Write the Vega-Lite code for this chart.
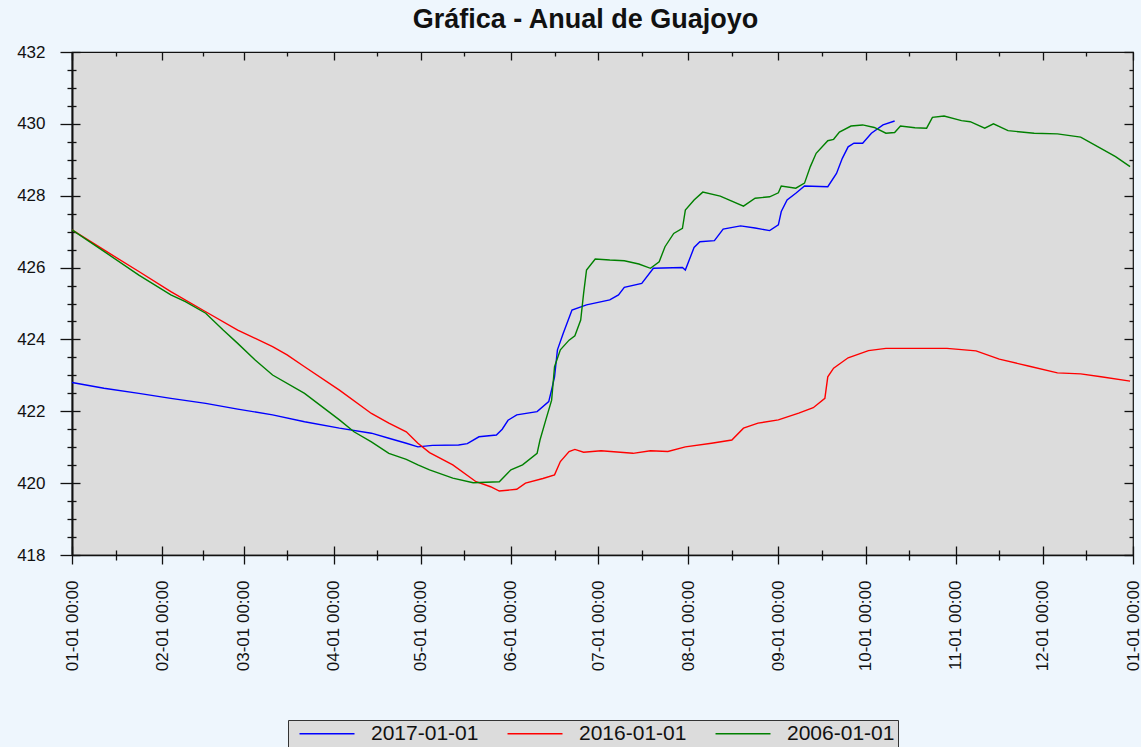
{
  "$schema": "https://vega.github.io/schema/vega-lite/v6.json",
  "width": 1061,
  "height": 503,
  "autosize": {"type": "none"},
  "padding": {"left": 72, "top": 52, "right": 8, "bottom": 192},
  "background": "#eef6fd",
  "title": {"text": "Gráfica - Anual de Guajoyo", "font": "Liberation Sans", "fontSize": 27, "fontWeight": "bold", "color": "#111", "anchor": "middle", "dx": -17, "offset": 9},
  "config": {
    "view": {"fill": "#dcdcdc", "stroke": "#111", "strokeWidth": 1.2},
    "axis": {"grid": false, "title": null, "tickColor": "#111", "domainColor": "#111", "tickWidth": 1.3, "labelFont": "Liberation Sans", "labelColor": "#111"}
  },
  "data": {
    "format": {"parse": {"d": "utc:'%Y-%m-%d'"}},
    "values": [
      {"s":"2017-01-01","d":"2017-01-01","v":422.80},
      {"s":"2017-01-01","d":"2017-01-12","v":422.64},
      {"s":"2017-01-01","d":"2017-01-24","v":422.50},
      {"s":"2017-01-01","d":"2017-02-04","v":422.36},
      {"s":"2017-01-01","d":"2017-02-16","v":422.22},
      {"s":"2017-01-01","d":"2017-02-27","v":422.06},
      {"s":"2017-01-01","d":"2017-03-11","v":421.90},
      {"s":"2017-01-01","d":"2017-03-22","v":421.71},
      {"s":"2017-01-01","d":"2017-04-03","v":421.53},
      {"s":"2017-01-01","d":"2017-04-14","v":421.39},
      {"s":"2017-01-01","d":"2017-04-20","v":421.25},
      {"s":"2017-01-01","d":"2017-04-26","v":421.11},
      {"s":"2017-01-01","d":"2017-04-30","v":421.01},
      {"s":"2017-01-01","d":"2017-05-05","v":421.05},
      {"s":"2017-01-01","d":"2017-05-14","v":421.06},
      {"s":"2017-01-01","d":"2017-05-17","v":421.10},
      {"s":"2017-01-01","d":"2017-05-21","v":421.29},
      {"s":"2017-01-01","d":"2017-05-27","v":421.34},
      {"s":"2017-01-01","d":"2017-05-29","v":421.50},
      {"s":"2017-01-01","d":"2017-05-31","v":421.75},
      {"s":"2017-01-01","d":"2017-06-03","v":421.90},
      {"s":"2017-01-01","d":"2017-06-10","v":421.99},
      {"s":"2017-01-01","d":"2017-06-14","v":422.27},
      {"s":"2017-01-01","d":"2017-06-15","v":422.60},
      {"s":"2017-01-01","d":"2017-06-16","v":422.96},
      {"s":"2017-01-01","d":"2017-06-17","v":423.71},
      {"s":"2017-01-01","d":"2017-06-19","v":424.17},
      {"s":"2017-01-01","d":"2017-06-22","v":424.82},
      {"s":"2017-01-01","d":"2017-06-27","v":424.96},
      {"s":"2017-01-01","d":"2017-07-05","v":425.10},
      {"s":"2017-01-01","d":"2017-07-08","v":425.24},
      {"s":"2017-01-01","d":"2017-07-10","v":425.45},
      {"s":"2017-01-01","d":"2017-07-16","v":425.56},
      {"s":"2017-01-01","d":"2017-07-20","v":425.98},
      {"s":"2017-01-01","d":"2017-07-30","v":426.00},
      {"s":"2017-01-01","d":"2017-07-31","v":425.93},
      {"s":"2017-01-01","d":"2017-08-03","v":426.56},
      {"s":"2017-01-01","d":"2017-08-05","v":426.72},
      {"s":"2017-01-01","d":"2017-08-10","v":426.75},
      {"s":"2017-01-01","d":"2017-08-13","v":427.07},
      {"s":"2017-01-01","d":"2017-08-19","v":427.16},
      {"s":"2017-01-01","d":"2017-08-24","v":427.10},
      {"s":"2017-01-01","d":"2017-08-29","v":427.03},
      {"s":"2017-01-01","d":"2017-09-01","v":427.19},
      {"s":"2017-01-01","d":"2017-09-02","v":427.56},
      {"s":"2017-01-01","d":"2017-09-04","v":427.88},
      {"s":"2017-01-01","d":"2017-09-07","v":428.07},
      {"s":"2017-01-01","d":"2017-09-10","v":428.27},
      {"s":"2017-01-01","d":"2017-09-18","v":428.25},
      {"s":"2017-01-01","d":"2017-09-21","v":428.62},
      {"s":"2017-01-01","d":"2017-09-23","v":429.04},
      {"s":"2017-01-01","d":"2017-09-25","v":429.36},
      {"s":"2017-01-01","d":"2017-09-27","v":429.46},
      {"s":"2017-01-01","d":"2017-09-30","v":429.46},
      {"s":"2017-01-01","d":"2017-10-03","v":429.74},
      {"s":"2017-01-01","d":"2017-10-07","v":429.97},
      {"s":"2017-01-01","d":"2017-10-11","v":430.08},

      {"s":"2016-01-01","d":"2017-01-01","v":427.05},
      {"s":"2016-01-01","d":"2017-01-12","v":426.49},
      {"s":"2016-01-01","d":"2017-01-24","v":425.89},
      {"s":"2016-01-01","d":"2017-02-04","v":425.33},
      {"s":"2016-01-01","d":"2017-02-16","v":424.77},
      {"s":"2016-01-01","d":"2017-02-27","v":424.26},
      {"s":"2016-01-01","d":"2017-03-11","v":423.80},
      {"s":"2016-01-01","d":"2017-03-16","v":423.57},
      {"s":"2016-01-01","d":"2017-03-22","v":423.24},
      {"s":"2016-01-01","d":"2017-04-03","v":422.59},
      {"s":"2016-01-01","d":"2017-04-14","v":421.94},
      {"s":"2016-01-01","d":"2017-04-20","v":421.67},
      {"s":"2016-01-01","d":"2017-04-26","v":421.43},
      {"s":"2016-01-01","d":"2017-04-30","v":421.11},
      {"s":"2016-01-01","d":"2017-05-04","v":420.85},
      {"s":"2016-01-01","d":"2017-05-12","v":420.51},
      {"s":"2016-01-01","d":"2017-05-20","v":420.04},
      {"s":"2016-01-01","d":"2017-05-25","v":419.90},
      {"s":"2016-01-01","d":"2017-05-28","v":419.78},
      {"s":"2016-01-01","d":"2017-06-03","v":419.83},
      {"s":"2016-01-01","d":"2017-06-06","v":420.00},
      {"s":"2016-01-01","d":"2017-06-12","v":420.13},
      {"s":"2016-01-01","d":"2017-06-16","v":420.23},
      {"s":"2016-01-01","d":"2017-06-18","v":420.60},
      {"s":"2016-01-01","d":"2017-06-21","v":420.88},
      {"s":"2016-01-01","d":"2017-06-23","v":420.94},
      {"s":"2016-01-01","d":"2017-06-26","v":420.86},
      {"s":"2016-01-01","d":"2017-07-02","v":420.90},
      {"s":"2016-01-01","d":"2017-07-13","v":420.83},
      {"s":"2016-01-01","d":"2017-07-19","v":420.90},
      {"s":"2016-01-01","d":"2017-07-25","v":420.88},
      {"s":"2016-01-01","d":"2017-07-31","v":421.01},
      {"s":"2016-01-01","d":"2017-08-09","v":421.11},
      {"s":"2016-01-01","d":"2017-08-16","v":421.20},
      {"s":"2016-01-01","d":"2017-08-20","v":421.53},
      {"s":"2016-01-01","d":"2017-08-25","v":421.67},
      {"s":"2016-01-01","d":"2017-09-01","v":421.76},
      {"s":"2016-01-01","d":"2017-09-08","v":421.95},
      {"s":"2016-01-01","d":"2017-09-13","v":422.10},
      {"s":"2016-01-01","d":"2017-09-17","v":422.36},
      {"s":"2016-01-01","d":"2017-09-18","v":422.96},
      {"s":"2016-01-01","d":"2017-09-20","v":423.20},
      {"s":"2016-01-01","d":"2017-09-25","v":423.49},
      {"s":"2016-01-01","d":"2017-10-02","v":423.69},
      {"s":"2016-01-01","d":"2017-10-08","v":423.75},
      {"s":"2016-01-01","d":"2017-10-29","v":423.75},
      {"s":"2016-01-01","d":"2017-11-08","v":423.68},
      {"s":"2016-01-01","d":"2017-11-16","v":423.45},
      {"s":"2016-01-01","d":"2017-11-26","v":423.26},
      {"s":"2016-01-01","d":"2017-12-06","v":423.07},
      {"s":"2016-01-01","d":"2017-12-14","v":423.04},
      {"s":"2016-01-01","d":"2017-12-21","v":422.96},
      {"s":"2016-01-01","d":"2017-12-31","v":422.84},

      {"s":"2006-01-01","d":"2017-01-01","v":427.05},
      {"s":"2006-01-01","d":"2017-01-12","v":426.45},
      {"s":"2006-01-01","d":"2017-01-24","v":425.79},
      {"s":"2006-01-01","d":"2017-02-04","v":425.24},
      {"s":"2006-01-01","d":"2017-02-09","v":425.05},
      {"s":"2006-01-01","d":"2017-02-16","v":424.73},
      {"s":"2006-01-01","d":"2017-02-22","v":424.26},
      {"s":"2006-01-01","d":"2017-02-27","v":423.89},
      {"s":"2006-01-01","d":"2017-03-05","v":423.43},
      {"s":"2006-01-01","d":"2017-03-11","v":423.01},
      {"s":"2006-01-01","d":"2017-03-22","v":422.50},
      {"s":"2006-01-01","d":"2017-03-28","v":422.13},
      {"s":"2006-01-01","d":"2017-04-03","v":421.76},
      {"s":"2006-01-01","d":"2017-04-08","v":421.43},
      {"s":"2006-01-01","d":"2017-04-14","v":421.15},
      {"s":"2006-01-01","d":"2017-04-20","v":420.83},
      {"s":"2006-01-01","d":"2017-04-26","v":420.66},
      {"s":"2006-01-01","d":"2017-04-30","v":420.51},
      {"s":"2006-01-01","d":"2017-05-04","v":420.37},
      {"s":"2006-01-01","d":"2017-05-12","v":420.14},
      {"s":"2006-01-01","d":"2017-05-19","v":420.01},
      {"s":"2006-01-01","d":"2017-05-28","v":420.04},
      {"s":"2006-01-01","d":"2017-06-01","v":420.37},
      {"s":"2006-01-01","d":"2017-06-05","v":420.51},
      {"s":"2006-01-01","d":"2017-06-10","v":420.83},
      {"s":"2006-01-01","d":"2017-06-11","v":421.20},
      {"s":"2006-01-01","d":"2017-06-13","v":421.76},
      {"s":"2006-01-01","d":"2017-06-15","v":422.31},
      {"s":"2006-01-01","d":"2017-06-16","v":423.24},
      {"s":"2006-01-01","d":"2017-06-18","v":423.71},
      {"s":"2006-01-01","d":"2017-06-21","v":423.98},
      {"s":"2006-01-01","d":"2017-06-23","v":424.10},
      {"s":"2006-01-01","d":"2017-06-25","v":424.54},
      {"s":"2006-01-01","d":"2017-06-26","v":425.28},
      {"s":"2006-01-01","d":"2017-06-27","v":425.93},
      {"s":"2006-01-01","d":"2017-06-30","v":426.24},
      {"s":"2006-01-01","d":"2017-07-05","v":426.21},
      {"s":"2006-01-01","d":"2017-07-10","v":426.19},
      {"s":"2006-01-01","d":"2017-07-15","v":426.10},
      {"s":"2006-01-01","d":"2017-07-19","v":425.98},
      {"s":"2006-01-01","d":"2017-07-22","v":426.16},
      {"s":"2006-01-01","d":"2017-07-24","v":426.58},
      {"s":"2006-01-01","d":"2017-07-27","v":426.95},
      {"s":"2006-01-01","d":"2017-07-30","v":427.09},
      {"s":"2006-01-01","d":"2017-07-31","v":427.60},
      {"s":"2006-01-01","d":"2017-08-03","v":427.88},
      {"s":"2006-01-01","d":"2017-08-06","v":428.10},
      {"s":"2006-01-01","d":"2017-08-12","v":427.99},
      {"s":"2006-01-01","d":"2017-08-20","v":427.71},
      {"s":"2006-01-01","d":"2017-08-24","v":427.93},
      {"s":"2006-01-01","d":"2017-08-29","v":427.97},
      {"s":"2006-01-01","d":"2017-09-01","v":428.08},
      {"s":"2006-01-01","d":"2017-09-02","v":428.27},
      {"s":"2006-01-01","d":"2017-09-07","v":428.21},
      {"s":"2006-01-01","d":"2017-09-10","v":428.35},
      {"s":"2006-01-01","d":"2017-09-12","v":428.81},
      {"s":"2006-01-01","d":"2017-09-14","v":429.18},
      {"s":"2006-01-01","d":"2017-09-18","v":429.53},
      {"s":"2006-01-01","d":"2017-09-20","v":429.57},
      {"s":"2006-01-01","d":"2017-09-22","v":429.77},
      {"s":"2006-01-01","d":"2017-09-26","v":429.94},
      {"s":"2006-01-01","d":"2017-09-30","v":429.97},
      {"s":"2006-01-01","d":"2017-10-04","v":429.90},
      {"s":"2006-01-01","d":"2017-10-08","v":429.74},
      {"s":"2006-01-01","d":"2017-10-11","v":429.76},
      {"s":"2006-01-01","d":"2017-10-13","v":429.94},
      {"s":"2006-01-01","d":"2017-10-18","v":429.89},
      {"s":"2006-01-01","d":"2017-10-22","v":429.88},
      {"s":"2006-01-01","d":"2017-10-24","v":430.18},
      {"s":"2006-01-01","d":"2017-10-28","v":430.22},
      {"s":"2006-01-01","d":"2017-11-03","v":430.09},
      {"s":"2006-01-01","d":"2017-11-06","v":430.06},
      {"s":"2006-01-01","d":"2017-11-11","v":429.88},
      {"s":"2006-01-01","d":"2017-11-14","v":430.00},
      {"s":"2006-01-01","d":"2017-11-19","v":429.81},
      {"s":"2006-01-01","d":"2017-11-28","v":429.74},
      {"s":"2006-01-01","d":"2017-12-06","v":429.72},
      {"s":"2006-01-01","d":"2017-12-14","v":429.63},
      {"s":"2006-01-01","d":"2017-12-20","v":429.36},
      {"s":"2006-01-01","d":"2017-12-26","v":429.09},
      {"s":"2006-01-01","d":"2017-12-31","v":428.81}
    ]
  },
  "resolve": {"axis": {"x": "independent", "y": "independent"}},
  "layer": [
    {
      "mark": {"type": "line", "strokeWidth": 1.4},
      "encoding": {
        "x": {"field": "d", "type": "temporal",
          "scale": {"type": "utc", "domain": [{"year":2017,"month":1,"date":1,"utc":true},{"year":2018,"month":1,"date":1,"utc":true}]},
          "axis": {"orient": "bottom", "values": [
            {"year":2017,"month":1,"date":1,"utc":true},{"year":2017,"month":2,"date":1,"utc":true},{"year":2017,"month":3,"date":1,"utc":true},
            {"year":2017,"month":4,"date":1,"utc":true},{"year":2017,"month":5,"date":1,"utc":true},{"year":2017,"month":6,"date":1,"utc":true},
            {"year":2017,"month":7,"date":1,"utc":true},{"year":2017,"month":8,"date":1,"utc":true},{"year":2017,"month":9,"date":1,"utc":true},
            {"year":2017,"month":10,"date":1,"utc":true},{"year":2017,"month":11,"date":1,"utc":true},{"year":2017,"month":12,"date":1,"utc":true},
            {"year":2018,"month":1,"date":1,"utc":true}],
            "labelExpr": "utcFormat(datum.value, '%m-%d %H:%M')", "labelAngle": -90, "labelFontSize": 17, "labelPadding": 16, "tickSize": 9,
            "labelFlush": false, "labelOverlap": false, "labelBound": false, "domainWidth": 1.5}},
        "y": {"field": "v", "type": "quantitative", "scale": {"domain": [418, 432], "nice": false, "zero": false},
          "axis": {"orient": "left", "values": [418,420,422,424,426,428,430,432], "tickSize": 12, "labelPadding": 15, "labelFontSize": 17, "labelOverlap": false, "domainWidth": 2}},
        "color": {"field": "s", "type": "nominal",
          "scale": {"domain": ["2017-01-01","2016-01-01","2006-01-01"], "range": ["#0000ff","#ff0000","#008000"]},
          "legend": {"orient": "none", "legendX": 216, "legendY": 668, "direction": "horizontal", "title": null,
            "fillColor": "#dcdcdc", "strokeColor": "#333", "padding": 3, "symbolType": "M-0.22,0H5.89", "symbolSize": 324,
            "symbolStrokeWidth": 1.5, "labelOffset": 59, "labelFontSize": 21, "labelFont": "Liberation Sans", "labelColor": "#111", "columnPadding": 20}}
      }
    },
    {
      "mark": {"type": "point", "opacity": 0},
      "encoding": {
        "x": {"field": "d", "type": "temporal",
          "scale": {"type": "utc", "domain": [{"year":2017,"month":1,"date":1,"utc":true},{"year":2018,"month":1,"date":1,"utc":true}]},
          "axis": {"orient": "bottom", "offset": -9, "tickSize": 9, "labels": false, "domain": false, "values": [
            {"year":2017,"month":1,"date":1,"utc":true},{"year":2017,"month":2,"date":1,"utc":true},{"year":2017,"month":3,"date":1,"utc":true},
            {"year":2017,"month":4,"date":1,"utc":true},{"year":2017,"month":5,"date":1,"utc":true},{"year":2017,"month":6,"date":1,"utc":true},
            {"year":2017,"month":7,"date":1,"utc":true},{"year":2017,"month":8,"date":1,"utc":true},{"year":2017,"month":9,"date":1,"utc":true},
            {"year":2017,"month":10,"date":1,"utc":true},{"year":2017,"month":11,"date":1,"utc":true},{"year":2017,"month":12,"date":1,"utc":true},
            {"year":2018,"month":1,"date":1,"utc":true}]}},
        "y": {"field": "v", "type": "quantitative", "scale": {"domain": [418, 432], "nice": false, "zero": false},
          "axis": {"orient": "left", "offset": -8, "tickSize": 8, "labels": false, "domain": false, "values": [418,420,422,424,426,428,430,432]}}
      }
    },
    {
      "mark": {"type": "point", "opacity": 0},
      "encoding": {
        "x": {"field": "d", "type": "temporal",
          "scale": {"type": "utc", "domain": [{"year":2017,"month":1,"date":1,"utc":true},{"year":2018,"month":1,"date":1,"utc":true}]},
          "axis": {"orient": "bottom", "offset": -5, "tickSize": 10, "labels": false, "domain": false, "values": [
            {"year":2017,"month":1,"date":16,"utc":true},{"year":2017,"month":2,"date":15,"utc":true},{"year":2017,"month":3,"date":16,"utc":true},
            {"year":2017,"month":4,"date":16,"utc":true},{"year":2017,"month":5,"date":16,"utc":true},{"year":2017,"month":6,"date":16,"utc":true},
            {"year":2017,"month":7,"date":16,"utc":true},{"year":2017,"month":8,"date":16,"utc":true},{"year":2017,"month":9,"date":16,"utc":true},
            {"year":2017,"month":10,"date":16,"utc":true},{"year":2017,"month":11,"date":16,"utc":true},{"year":2017,"month":12,"date":16,"utc":true}]}},
        "y": {"field": "v", "type": "quantitative", "scale": {"domain": [418, 432], "nice": false, "zero": false},
          "axis": {"orient": "left", "offset": -4, "tickSize": 9, "labels": false, "domain": false,
            "values": [418.5,419,419.5,420.5,421,421.5,422.5,423,423.5,424.5,425,425.5,426.5,427,427.5,428.5,429,429.5,430.5,431,431.5]}}
      }
    },
    {
      "mark": {"type": "point", "opacity": 0},
      "encoding": {
        "x": {"field": "d", "type": "temporal",
          "scale": {"type": "utc", "domain": [{"year":2017,"month":1,"date":1,"utc":true},{"year":2018,"month":1,"date":1,"utc":true}]},
          "axis": {"orient": "top", "offset": -8, "tickSize": 8, "labels": false, "domain": false, "values": [
            {"year":2017,"month":1,"date":1,"utc":true},{"year":2017,"month":2,"date":1,"utc":true},{"year":2017,"month":3,"date":1,"utc":true},
            {"year":2017,"month":4,"date":1,"utc":true},{"year":2017,"month":5,"date":1,"utc":true},{"year":2017,"month":6,"date":1,"utc":true},
            {"year":2017,"month":7,"date":1,"utc":true},{"year":2017,"month":8,"date":1,"utc":true},{"year":2017,"month":9,"date":1,"utc":true},
            {"year":2017,"month":10,"date":1,"utc":true},{"year":2017,"month":11,"date":1,"utc":true},{"year":2017,"month":12,"date":1,"utc":true},
            {"year":2018,"month":1,"date":1,"utc":true}]}},
        "y": {"field": "v", "type": "quantitative", "scale": {"domain": [418, 432], "nice": false, "zero": false},
          "axis": {"orient": "right", "offset": -9, "tickSize": 9, "labels": false, "domain": false, "values": [418,420,422,424,426,428,430,432]}}
      }
    },
    {
      "mark": {"type": "point", "opacity": 0},
      "encoding": {
        "x": {"field": "d", "type": "temporal",
          "scale": {"type": "utc", "domain": [{"year":2017,"month":1,"date":1,"utc":true},{"year":2018,"month":1,"date":1,"utc":true}]},
          "axis": {"orient": "top", "offset": -4, "tickSize": 4, "labels": false, "domain": false, "values": [
            {"year":2017,"month":1,"date":16,"utc":true},{"year":2017,"month":2,"date":15,"utc":true},{"year":2017,"month":3,"date":16,"utc":true},
            {"year":2017,"month":4,"date":16,"utc":true},{"year":2017,"month":5,"date":16,"utc":true},{"year":2017,"month":6,"date":16,"utc":true},
            {"year":2017,"month":7,"date":16,"utc":true},{"year":2017,"month":8,"date":16,"utc":true},{"year":2017,"month":9,"date":16,"utc":true},
            {"year":2017,"month":10,"date":16,"utc":true},{"year":2017,"month":11,"date":16,"utc":true},{"year":2017,"month":12,"date":16,"utc":true}]}},
        "y": {"field": "v", "type": "quantitative", "scale": {"domain": [418, 432], "nice": false, "zero": false},
          "axis": {"orient": "right", "offset": -4, "tickSize": 4, "labels": false, "domain": false,
            "values": [418.5,419,419.5,420.5,421,421.5,422.5,423,423.5,424.5,425,425.5,426.5,427,427.5,428.5,429,429.5,430.5,431,431.5]}}
      }
    }
  ]
}
